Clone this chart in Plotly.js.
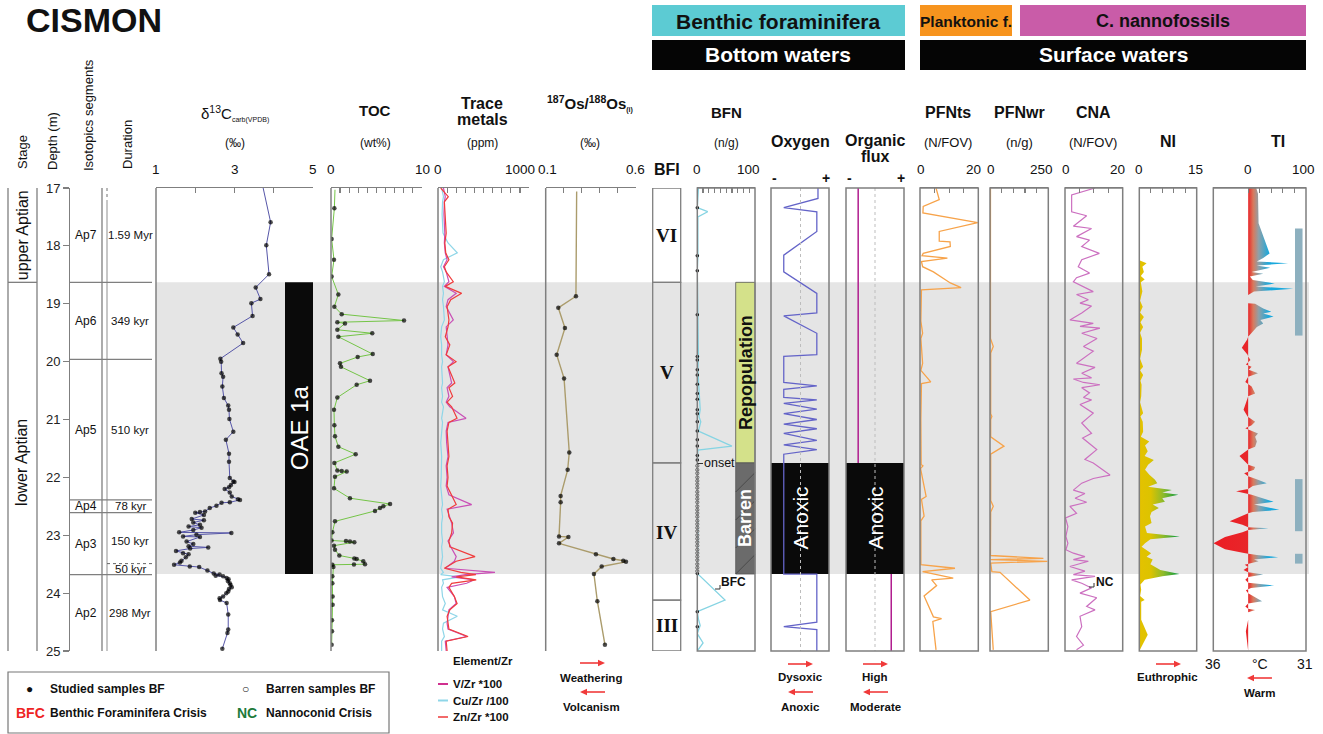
<!DOCTYPE html>
<html><head><meta charset="utf-8">
<script src="https://cdn.plot.ly/plotly-3.0.1.min.js"></script>
<style>html,body{margin:0;padding:0;background:#fff}#chart{width:1323px;height:734px}</style>
</head><body><div id="chart"></div>
<script>
// ---------------- DATA ----------------
const depthTicks = [17,18,19,20,21,22,23,24,25];
const stageNames = ['upper Aptian','lower Aptian'];
const stageBounds = [17, 18.63, 25];
const segNames = ['Ap7','Ap6','Ap5','Ap4','Ap3','Ap2'];
const segDur = ['1.59 Myr','349 kyr','510 kyr','78 kyr','150 kyr','298 Myr'];
const segBounds = [17, 18.63, 19.96, 22.39, 22.61, 23.68, 25];
const subSegTop = 23.49, subSegLabel = '50 kyr';
const oaeTop = 18.63, oaeBase = 23.67;
const bfiNames = ['VI','V','IV','III'];
const bfiBounds = [17, 18.63, 21.75, 24.12, 25];
const barrenTop = 21.75, barrenBase = 23.67;
const tiBarTop = [17.70, 22.03, 23.32];
const tiBarBase = [19.55, 22.93, 23.49];

const d13cDepth = [17.00,17.59,17.99,18.49,18.72,18.92,18.99,19.21,19.41,19.53,19.68,19.95,20.00,20.20,20.26,20.43,20.63,20.76,20.83,20.99,21.21,21.35,21.59,21.73,22.01,22.07,22.08,22.13,22.17,22.20,22.26,22.33,22.38,22.39,22.43,22.44,22.49,22.53,22.59,22.60,22.61,22.65,22.72,22.74,22.78,22.82,22.85,22.87,22.91,22.95,22.96,22.99,23.02,23.03,23.11,23.15,23.19,23.21,23.23,23.27,23.31,23.33,23.38,23.44,23.47,23.51,23.54,23.55,23.61,23.66,23.68,23.70,23.71,23.74,23.76,23.79,23.83,23.86,23.90,23.93,23.97,24.00,24.06,24.09,24.12,24.17,24.37,24.63,24.69,24.96];
const d13cVal = [3.73,3.92,3.81,3.88,3.54,3.66,3.43,3.46,2.97,3.08,3.22,2.64,2.66,2.67,2.71,2.69,2.73,2.84,2.86,2.87,2.97,2.78,2.86,2.86,2.88,2.97,3.00,2.91,2.86,2.75,2.88,2.93,3.09,3.14,2.88,2.67,2.54,2.37,2.25,2.12,2.00,2.22,1.91,2.22,1.95,2.12,1.83,2.16,1.95,1.59,2.92,2.03,1.69,2.12,1.78,1.95,1.83,2.33,1.87,1.51,1.69,1.83,1.76,1.65,1.61,1.46,1.86,2.10,2.31,2.47,2.62,2.52,2.71,2.80,2.85,2.83,2.88,2.90,2.93,2.86,2.84,2.79,2.71,2.62,2.63,2.80,2.84,2.84,2.82,2.69];

const tocDepth = [17.03,17.35,17.88,18.24,18.53,18.84,19.05,19.18,19.29,19.32,19.34,19.45,19.51,19.57,19.87,19.92,20.03,20.09,20.33,20.40,20.62,20.83,21.10,21.29,21.47,21.60,21.75,21.88,21.89,21.90,21.99,22.19,22.36,22.46,22.50,22.53,22.58,22.76,22.95,23.09,23.10,23.11,23.12,23.18,23.25,23.35,23.40,23.41,23.45,23.50,23.505,23.51,23.55,23.71,23.83,24.06,24.20,24.47,24.66,24.89];
const tocVal = [0.44,0.37,0.07,0.33,0.07,0.81,0.37,1.18,8.05,0.70,1.54,0.70,4.55,0.81,4.60,2.94,0.99,1.10,4.30,2.83,0.70,0.33,0.37,0.44,0.81,2.72,0.37,0.70,1.18,1.73,0.44,0.33,2.09,6.51,5.77,5.40,4.85,0.44,0.15,0.07,1.65,2.09,2.57,0.33,0.44,0.92,2.57,2.83,3.56,3.75,2.53,0.15,0.26,0.15,0.15,0.18,0.18,0.11,0.11,0.07];

const tmDepth = [17.00,17.15,17.24,17.45,17.78,17.95,18.12,18.24,18.36,18.45,18.62,18.70,18.82,18.93,19.05,19.28,19.40,19.57,19.71,19.88,20.00,20.09,20.37,20.45,20.60,20.70,20.78,20.98,21.05,21.20,21.40,21.64,21.80,22.00,22.15,22.30,22.47,22.55,22.68,22.79,22.96,23.10,23.20,23.37,23.45,23.57,23.64,23.68,23.72,23.77,23.83,23.90,24.06,24.18,24.29,24.40,24.52,24.62,24.75,24.83,25.00];
const tmV  = [60,80,70,65,75,70,80,100,60,90,120,70,200,110,90,168,90,100,110,90,170,110,150,100,120,90,130,308,110,90,95,110,90,100,90,120,370,100,130,150,170,110,140,200,180,80,626,300,150,400,315,100,180,200,120,110,100,110,315,80,90];
const tmCu = [40,60,50,45,55,110,212,60,30,50,70,50,60,50,60,70,40,30,40,40,50,40,50,40,50,40,60,40,50,40,30,40,40,35,30,40,50,40,50,40,40,50,40,50,40,30,60,30,240,50,60,40,50,80,50,212,60,50,70,40,40];
const tmZn = [30,113,70,80,90,75,85,120,70,90,168,80,260,140,100,120,110,80,130,90,198,110,185,120,160,100,150,209,120,100,110,120,100,110,100,150,200,110,120,160,150,120,130,407,200,70,250,416,200,420,150,120,180,210,130,100,110,120,330,90,100];

const osDepth = [17.06,18.87,19.07,19.42,19.88,20.29,21.57,21.87,22.32,22.43,23.02,23.03,23.14,23.33,23.41,23.44,23.46,23.54,23.67,24.14,24.89];
const osVal = [0.272,0.268,0.170,0.207,0.161,0.202,0.231,0.222,0.183,0.183,0.174,0.226,0.174,0.379,0.476,0.531,0.546,0.411,0.368,0.387,0.429];

const bfnDepth = [17.0,17.34,17.41,17.5,18.17,18.43,19.19,19.91,20.14,20.39,20.6,20.83,20.95,21.04,21.2,21.46,21.53,21.75,22.5,23.0,23.66,24.12,24.32,24.45,24.56,24.7,24.86,25.0];
const bfnVal = [2,0,18,1,1,0,1,2,1,2,3,5,3,6,2,60,1,0,0,1,0,48,0,2,5,0,10,0];
const studiedDepth = [17.34,18.17,18.43,19.19,19.91,19.97,20.14,20.23,20.39,20.55,20.65,20.83,20.9,21.04,21.2,21.35,21.46,21.62,21.7,23.66,24.32,24.58];
const barrenDepth = [21.8,21.87,21.93,22.0,22.06,22.12,22.18,22.25,22.31,22.37,22.43,22.5,22.56,22.62,22.68,22.75,22.81,22.87,22.93,23.0,23.06,23.12,23.18,23.25,23.31,23.37,23.43,23.5,23.56,23.62];

const oxyDepth = [17.0,17.18,17.34,17.41,17.75,18.16,18.45,18.82,19.16,19.21,19.51,19.88,19.91,20.36,20.42,20.48,20.62,20.66,20.72,20.82,20.9,21.0,21.08,21.16,21.24,21.36,21.44,21.52,21.6,21.75,23.67,23.67,24.5,24.58,24.63,25.0];
const oxyVal = [0.81,0.81,0.22,0.79,0.79,0.22,0.22,0.79,0.79,0.22,0.79,0.79,0.22,0.22,0.79,0.22,0.22,0.79,0.22,0.79,0.22,0.79,0.22,0.79,0.22,0.79,0.22,0.79,0.22,0.22,0.22,0.79,0.79,0.22,0.79,0.79];
const ofDepth = [17.0,21.75,null,23.67,25.0];
const ofVal = [0.21,0.21,null,0.78,0.78];

const pfntsDepth = [17.0,17.2,17.32,17.43,17.6,17.75,17.92,17.93,18.01,18.13,18.17,18.21,18.27,18.36,18.45,18.62,18.64,18.72,18.76,19.3,19.51,19.6,20.03,20.15,20.35,20.38,21.0,21.78,21.8,21.85,22.33,22.38,22.67,22.75,23.51,23.57,23.63,23.74,23.77,23.87,24.05,24.41,24.44,24.49,24.98];
const pfntsVal = [5.5,6.6,1.1,1.0,19.8,6.6,6.6,10.3,10.4,1.1,0.7,9.4,0.5,0.9,4.6,9.7,10.4,14.1,0.5,0.3,0.9,0.3,0.9,0.3,3.7,0.5,0.3,0.4,1.0,0.2,2.1,0.5,1.4,0.3,0.3,12.0,0.9,11.4,4.0,5.7,1.4,4.6,7.4,4.4,5.5];
const pfnwrDepth = [17.0,19.6,19.74,19.85,20.9,20.95,21.0,21.3,21.46,21.6,22.4,22.5,22.6,23.35,23.4,23.42,23.45,23.48,23.63,23.64,24.12,24.32,24.98];
const pfnwrVal = [2,2,14,3,3,8,3,3,60,3,3,14,3,2,229,3,246,3,8,43,171,3,14];

const cnaDepth = [17.0,17.12,17.41,17.48,17.66,17.7,17.84,17.9,18.01,18.13,18.24,18.36,18.41,18.47,18.55,18.62,18.79,18.84,18.93,18.99,19.04,19.16,19.28,19.34,19.39,19.42,19.51,19.6,19.74,19.82,20.03,20.1,20.2,20.28,20.3,20.36,20.4,20.45,20.54,20.62,20.66,20.74,20.89,21.06,21.24,21.32,21.52,21.69,21.75,21.96,22.02,22.1,22.22,22.28,22.36,22.43,22.5,22.62,22.7,22.85,23.02,23.14,23.25,23.31,23.37,23.42,23.45,23.54,23.62,23.68,23.71,23.77,23.83,23.91,24.0,24.08,24.23,24.29,24.4,24.58,24.75,24.9,24.98];
const cnaVal = [10.4,2.3,2.3,7.5,2.9,9.2,4.0,8.5,5.8,11.9,5.8,4.6,6.3,8.5,4.0,2.9,9.8,4.0,8.1,5.2,9.2,5.8,1.7,9.8,5.2,12.1,5.8,11.1,6.4,9.8,4.0,10.4,5.8,9.2,2.9,6.4,12.1,5.8,8.5,6.4,9.2,5.2,9.8,5.8,9.2,6.1,11.0,6.9,9.8,15.6,9.8,5.8,2.9,6.9,3.5,7.5,1.7,4.0,0.2,1.0,0.3,1.0,0.3,2.9,6.9,2.9,8.1,1.7,6.9,2.9,10.4,2.3,5.8,9.2,5.2,11.0,7.5,10.4,5.2,5.8,4.0,6.4,4.0];

const niDepth = [17.0,18.25,18.3,18.36,18.45,18.52,18.58,18.63,18.79,18.95,19.05,19.15,19.23,19.32,19.4,19.5,19.6,19.8,19.95,20.09,20.15,20.23,20.33,20.4,20.6,20.7,20.89,20.95,21.04,21.21,21.3,21.38,21.45,21.55,21.63,21.7,21.78,21.87,21.96,22.04,22.1,22.16,22.22,22.26,22.3,22.36,22.42,22.47,22.53,22.6,22.67,22.79,22.85,22.96,23.02,23.07,23.14,23.2,23.31,23.37,23.42,23.5,23.6,23.67,23.71,23.77,23.85,23.94,24.05,24.12,24.15,24.35,24.46,24.72,24.92,25.0];
const niVal = [0,0,1.9,0.8,1.2,0.4,1.4,0.4,0.8,0.2,0.9,0.2,1.2,0.3,1.0,0.2,0.7,0.7,0.2,1.0,0.2,1.0,0.3,0.6,0.5,0.2,1.0,0.3,0.9,1.0,0.4,2.6,1.5,2.2,1.4,3.8,2.3,1.5,2.7,4.1,4.7,2.3,8.5,6.0,10.2,6.0,6.7,3.5,5.1,3.2,2.8,3.2,1.5,2.0,10.6,2.9,1.5,0.6,3.1,1.9,3.5,2.9,5.5,10.5,6.0,1.4,0.3,0.5,0.2,1.4,0.5,0.4,0.5,2.2,0.5,0];

const tiDepth = [17.0,17.1,17.61,17.84,18.13,18.21,18.27,18.3,18.34,18.38,18.45,18.48,18.53,18.59,18.65,18.7,18.74,18.79,18.85,18.99,19.0,19.08,19.14,19.17,19.22,19.28,19.34,19.4,19.51,19.57,19.62,19.76,19.88,19.91,19.97,20.05,20.09,20.14,20.2,20.26,20.35,20.43,20.55,20.6,20.66,20.83,20.95,21.04,21.1,21.15,21.24,21.3,21.38,21.47,21.52,21.58,21.63,21.72,21.78,21.82,21.87,21.93,21.98,22.04,22.1,22.15,22.2,22.24,22.28,22.3,22.42,22.47,22.56,22.6,22.62,22.68,22.76,22.82,22.86,22.88,22.91,22.95,23.03,23.14,23.24,23.31,23.34,23.38,23.42,23.45,23.49,23.51,23.55,23.6,23.64,23.68,23.72,23.77,23.82,23.87,23.91,23.95,24.0,24.14,24.18,24.23,24.27,24.29,24.33,24.46,24.66,24.92,25.0];
const tiVal = [14,17,18,26,37,26,15,69,15,38,6,26,3,8,46,13,78,10,0,0,12,26,40,26,44,21,26,15,6,0,-2,-11,-1,0,4,-4,6,1,17,0,-5,6,12,0,-2,-8,-1,12,6,-5,17,12,15,12,0,-8,-15,-6,0,12,10,-7,0,17,32,8,0,-21,0,6,44,10,54,8,0,-15,-32,-10,0,35,0,-10,-40,-60,-40,-5,15,52,10,18,0,-6,0,-8,0,26,0,-5,0,45,5,-4,0,24,0,-5,0,12,0,0,-4,0,0];

// ---------------- LAYOUT HELPERS ----------------
const W = 1323, H = 734;
const X = p => p / W, Y = p => 1 - p / H;
const FONT = 'Liberation Sans, Arial, Helvetica, sans-serif';
const SERIF = 'Liberation Serif, Times New Roman, serif';
const LC = '#7f7f7f';
const RED = '#f03a3a';
const TOP = 188, BOT = 651;

const P = {
  d13c:[156,313], toc:[331,421.7], tm:[438,529], os:[545.7,635.7], bfn:[697.3,755],
  oxy:[771,829], of:[846,904], pfnts:[920,978.3], pfnwr:[990,1048.3], cna:[1065,1122.7],
  ni:[1139.3,1196.7], ti:[1213.3,1306], bfi:[652.7,680.7]
};
function steps(a, b, s){ const r=[]; for(let v=a; v<=b+1e-9; v+=s) r.push(+v.toFixed(4)); return r; }
function xa(p, range, tv, extra){
  return Object.assign({domain:[X(p[0]),X(p[1])], range:range, autorange:false, anchor:'y', side:'top',
    showgrid:false, zeroline:false, showline:true, linecolor:LC, linewidth:1.4,
    ticks:tv?'inside':'', ticklen:5, tickwidth:1.2, tickcolor:LC, tickvals:tv||[], showticklabels:false,
    fixedrange:true}, extra||{});
}
const ann = [];
function A(text, px, py, size, o){
  ann.push(Object.assign({xref:'paper', yref:'paper', x:X(px), y:Y(py), text:text, showarrow:false,
    xanchor:'center', yanchor:'middle', font:{family:FONT, size:size||12, color:'#111'}}, o||{}));
}
function AY(text, px, depth, size, o){
  ann.push(Object.assign({xref:'paper', yref:'y', x:X(px), y:depth, text:text, showarrow:false,
    xanchor:'center', yanchor:'middle', font:{family:FONT, size:size||12, color:'#111'}}, o||{}));
}
const shapes = [];
function rectPx(x0,y0,x1,y1,fill,line,lw,layer){
  shapes.push({type:'rect', xref:'paper', yref:'paper', x0:X(x0), x1:X(x1), y0:Y(y0), y1:Y(y1),
    fillcolor:fill||'rgba(0,0,0,0)', line:{color:line||'rgba(0,0,0,0)', width:lw||0}, layer:layer||'above'});
}
function rectD(x0,d0,x1,d1,fill,line,lw,layer){
  shapes.push({type:'rect', xref:'paper', yref:'y', x0:X(x0), x1:X(x1), y0:d0, y1:d1,
    fillcolor:fill||'rgba(0,0,0,0)', line:{color:line||'rgba(0,0,0,0)', width:lw||0}, layer:layer||'above'});
}
function linePx(x0,y0,x1,y1,color,w,dash){
  shapes.push({type:'line', xref:'paper', yref:'paper', x0:X(x0), x1:X(x1), y0:Y(y0), y1:Y(y1),
    line:{color:color||LC, width:w||1.3, dash:dash||'solid'}, layer:'above'});
}
function lineD(x0,d0,x1,d1,color,w,dash){
  shapes.push({type:'line', xref:'paper', yref:'y', x0:X(x0), x1:X(x1), y0:d0, y1:d1,
    line:{color:color||LC, width:w||1.3, dash:dash||'solid'}, layer:'above'});
}
function arrow(x0, x1, py){
  const d = x1 > x0 ? 1 : -1;
  linePx(x0, py, x1 - d*5, py, RED, 1.6);
  shapes.push({type:'path', xref:'paper', yref:'paper',
    path:'M ' + X(x1) + ',' + Y(py) + ' L ' + X(x1 - d*7) + ',' + Y(py - 3.3) + ' L ' + X(x1 - d*7) + ',' + Y(py + 3.3) + ' Z',
    fillcolor:RED, line:{width:0}, layer:'above'});
}

// ---------------- SHAPES ----------------
rectD(156, oaeTop, 1309, oaeBase, '#e5e5e5', null, 0, 'below');
rectD(285, oaeTop, 313, oaeBase, '#0a0a0a', null, 0, 'below');
rectD(P.oxy[0], barrenTop, P.oxy[1], barrenBase, '#0a0a0a', null, 0, 'below');
rectD(P.of[0], barrenTop, P.of[1], barrenBase, '#0a0a0a', null, 0, 'below');
rectD(735.7, oaeTop, P.bfn[1], barrenTop, '#d4e18a', '#555', 0.8, 'below');
rectD(735.7, barrenTop, P.bfn[1], barrenBase, '#6b6b6b', '#555', 0.8, 'below');
[492, 520, 548, 574].forEach(yb => {
  const y0 = yb, y1 = Math.max(yb - 19.3, 463.3);
  const x1 = 735.7 + (y0 - y1);
  shapes.push({type:'line', xref:'paper', yref:'paper', x0:X(735.7), y0:Y(y0), x1:X(x1), y1:Y(y1),
    line:{color:'#4a4a4a', width:1}, layer:'below'});
});
tiBarTop.forEach((t,i) => shapes.push({type:'rect', xref:'x12', yref:'y', x0:81, x1:94, y0:t, y1:tiBarBase[i],
  fillcolor:'#8db0bf', line:{width:0}, layer:'below'}));
linePx(800.5, TOP, 800.5, BOT, '#bdbdbd', 1, 'dot');
linePx(875, TOP, 875, BOT, '#bdbdbd', 1, 'dot');
[P.d13c[0], P.toc[0], P.tm[0], P.os[0]].forEach(x => linePx(x, TOP, x, BOT, LC, 1.5));
['bfn','oxy','of','pfnts','pfnwr','cna','ni','ti'].forEach(k => rectPx(P[k][0], TOP, P[k][1], BOT, null, LC, 1.5));
for (let i = 0; i < bfiNames.length; i++) rectD(P.bfi[0], bfiBounds[i], P.bfi[1], bfiBounds[i+1], null, LC, 1.3);
linePx(8, TOP, 8, BOT, LC, 1.3); linePx(37, TOP, 37, BOT, LC, 1.3);
lineD(8, stageBounds[1], 37, stageBounds[1], LC, 1.3);
linePx(102, TOP, 102, BOT, LC, 1.3);
linePx(107, TOP, 107, 200, LC, 1.1, 'dot');
linePx(107, 200, 107, BOT, '#999', 1.1);
for (let i = 1; i < segBounds.length - 1; i++) lineD(69, segBounds[i], 152, segBounds[i], LC, 1.3);
lineD(107, subSegTop, 152, subSegTop, '#666', 1, 'dot');
rectPx(652, 5, 905, 36, '#5ccbd3');
rectPx(652, 40, 905, 70, '#050505');
rectPx(920, 5, 1012, 36, '#f7941e');
rectPx(1020, 5, 1306, 36, '#c95ca8');
rectPx(920, 40, 1306, 70, '#050505');
rectPx(8, 672, 389, 733, null, '#777', 1.2);
linePx(438, 684, 448, 684, '#d0308f', 2);
linePx(438, 700.5, 448, 700.5, '#8fd6e8', 2);
linePx(438, 717, 448, 717, '#f26a6a', 2);
linePx(697.5, 463.5, 703, 463.5, '#333', 1);
linePx(715, 589, 720, 589, '#333', 1); linePx(720, 589, 720, 585, '#333', 1);
linePx(1089, 587, 1094, 587, '#333', 1); linePx(1094, 587, 1094, 583, '#333', 1);
arrow(580, 605, 663); arrow(605, 580, 692);
arrow(788, 813, 664); arrow(813, 788, 692);
arrow(863, 888, 664); arrow(888, 863, 692);
arrow(1156, 1181, 664);
arrow(1272, 1247, 678);

// ---------------- ANNOTATIONS ----------------
A('<b>CISMON</b>', 94, 20, 34);
A('<b>Benthic foraminifera</b>', 778, 21, 21);
A('<b>Bottom waters</b>', 778, 55, 21, {font:{family:FONT, size:21, color:'#fff'}});
A('<b>Planktonic f.</b>', 966, 21, 15.5);
A('<b>C. nannofossils</b>', 1163, 21, 18);
A('<b>Surface waters</b>', 1113, 55, 21, {font:{family:FONT, size:21, color:'#fff'}});
A('Stage', 23, 152, 13, {textangle:-90});
A('Depth (m)', 52, 141, 13, {textangle:-90});
A('Isotopics segments', 88, 115, 13, {textangle:-90});
A('Duration', 128, 145, 13, {textangle:-90});
AY(stageNames[0], 22, (stageBounds[0]+stageBounds[1])/2, 16, {textangle:-90});
AY(stageNames[1], 22, 21.75, 16, {textangle:-90});
for (let i = 0; i < segNames.length; i++) {
  const mid = (segBounds[i] + segBounds[i+1]) / 2;
  AY(segNames[i], 86, mid, 12);
  const dmid = i === 4 ? (segBounds[i] + subSegTop) / 2 + 0.05 : mid;
  AY(segDur[i], 130, dmid, 11.5);
}
AY(subSegLabel, 130, (subSegTop + segBounds[5]) / 2, 11.5);
A('δ<sup>13</sup>C<sub><span style="font-size:7px">carb(VPDB)</span></sub>', 235, 113, 15);
A('(‰)', 235, 143, 12);
A('<b>TOC</b>', 375, 110, 15);
A('(wt%)', 375, 143, 12);
A('<b>Trace</b>', 482, 103, 16);
A('<b>metals</b>', 482, 120, 16);
A('(ppm)', 482, 143, 12);
A('<b><sup>187</sup>Os/<sup>188</sup>Os<sub><span style="font-size:7px">(i)</span></sub></b>', 590, 104, 15);
A('(‰)', 590, 143, 12);
A('<b>BFN</b>', 726, 112, 15);
A('(n/g)', 726, 143, 12);
A('<b>Oxygen</b>', 800, 141, 16);
A('<b>Organic</b>', 875, 140, 16);
A('<b>flux</b>', 875, 156, 16);
A('<b>PFNts</b>', 948, 112, 16);
A('(N/FOV)', 948, 143, 13);
A('<b>PFNwr</b>', 1019, 112, 16);
A('(n/g)', 1019, 143, 13);
A('<b>CNA</b>', 1093, 112, 16);
A('(N/FOV)', 1093, 143, 13);
A('<b>NI</b>', 1168, 142, 16);
A('<b>TI</b>', 1278, 142, 16);
A('<b>BFI</b>', 667, 170, 16);
[['1',156],['3',234.7],['5',313],['0',331],['10',422],['0',438],['1000',520],['0.1',547.5],['0.6',635],
 ['0',697],['100',748],['0',920.7],['20',973],['0',990.7],['250',1041],['0',1065.7],['20',1117],
 ['0',1139],['15',1195],['0',1248],['100',1303]].forEach(t => A(t[0], t[1], 170, 13.5));
A('<b>-</b>', 774, 178, 14); A('<b>+</b>', 826, 178, 14);
A('<b>-</b>', 849, 178, 14); A('<b>+</b>', 901, 178, 14);
AY('OAE 1a', 299, (oaeTop + oaeBase) / 2, 24, {textangle:-90, font:{family:FONT, size:24, color:'#fff'}});
AY('Anoxic', 800, (barrenTop + barrenBase) / 2, 21, {textangle:-90, font:{family:FONT, size:21, color:'#fff'}});
AY('Anoxic', 875, (barrenTop + barrenBase) / 2, 21, {textangle:-90, font:{family:FONT, size:21, color:'#fff'}});
AY('<b>Repopulation</b>', 745.5, (oaeTop + barrenTop) / 2, 18, {textangle:-90});
AY('<b>Barren</b>', 745.5, (barrenTop + barrenBase) / 2, 18, {textangle:-90, font:{family:FONT, size:18, color:'#fff'}});
for (let i = 0; i < bfiNames.length; i++)
  AY('<b>' + bfiNames[i] + '</b>', 666.7, i === 2 ? 22.95 : (bfiBounds[i] + bfiBounds[i+1]) / 2, 19,
     {font:{family:SERIF, size:19, color:'#111'}});
A('onset', 719, 463, 12.5);
A('<b>BFC</b>', 733, 582, 12);
A('<b>NC</b>', 1105, 582, 12);
A('<b>Element/Zr</b>', 483, 661, 11.5);
A('<b>V/Zr *100</b>', 451, 684, 11.5, {xanchor:'left'});
A('<b>Cu/Zr /100</b>', 451, 700.5, 11.5, {xanchor:'left'});
A('<b>Zn/Zr *100</b>', 451, 717, 11.5, {xanchor:'left'});
A('<b>Weathering</b>', 591, 678, 11.5);
A('<b>Volcanism</b>', 591, 707, 11.5);
A('<b>Dysoxic</b>', 800, 677, 11.5);
A('<b>Anoxic</b>', 800, 707, 11.5);
A('<b>High</b>', 875, 677, 11.5);
A('<b>Moderate</b>', 875, 707, 11.5);
A('<b>Euthrophic</b>', 1167, 677, 11.5);
A('36', 1213, 664, 14); A('°C', 1260, 664, 14); A('31', 1305, 664, 14);
A('<b>Warm</b>', 1260, 693, 11.5);
A('●', 29, 689, 12);
A('<b>Studied samples BF</b>', 48, 689, 12, {xanchor:'left'});
A('○', 245, 689, 12);
A('<b>Barren samples BF</b>', 264, 689, 12, {xanchor:'left'});
A('<b>BFC</b>', 14, 713, 14, {xanchor:'left', font:{family:FONT, size:14, color:'#ee2424'}});
A('<b>Benthic Foraminifera Crisis</b>', 48, 713, 12, {xanchor:'left'});
A('<b>NC</b>', 235, 713, 14, {xanchor:'left', font:{family:FONT, size:14, color:'#1e7a3a'}});
A('<b>Nannoconid Crisis</b>', 264, 713, 12, {xanchor:'left'});

// ---------------- TRACES ----------------
const sz = (arr, skipFirst) => arr.map((_, i) => (skipFirst && i === 0) ? 0 : 4.5);
const dot = arr => ({color:'#000', size:sz(arr, true), line:{width:0}});
const traces = [
  {x:d13cVal, y:d13cDepth, xaxis:'x', yaxis:'y', mode:'lines+markers', line:{color:'#5656a8', width:1}, marker:dot(d13cVal)},
  {x:tocVal, y:tocDepth, xaxis:'x2', yaxis:'y', mode:'lines+markers', line:{color:'#74c447', width:1}, marker:dot(tocVal)},
  {x:tmCu, y:tmDepth, xaxis:'x3', yaxis:'y', mode:'lines', line:{color:'#8fd6e8', width:1.2}},
  {x:tmV, y:tmDepth, xaxis:'x3', yaxis:'y', mode:'lines', line:{color:'#c94fb6', width:1.2}},
  {x:tmZn, y:tmDepth, xaxis:'x3', yaxis:'y', mode:'lines', line:{color:'#f03c3c', width:1.2}},
  {x:osVal, y:osDepth, xaxis:'x4', yaxis:'y', mode:'lines+markers', line:{color:'#ab9c6c', width:1.4}, marker:dot(osVal)},
  {x:bfnVal, y:bfnDepth, xaxis:'x5', yaxis:'y', mode:'lines', line:{color:'#86d4e3', width:1.3}},
  {x:studiedDepth.map(() => 0), y:studiedDepth, xaxis:'x5', yaxis:'y', mode:'markers', cliponaxis:false,
   marker:{color:'#111', size:3.5, line:{width:0}}},
  {x:barrenDepth.map(() => 0), y:barrenDepth, xaxis:'x5', yaxis:'y', mode:'markers', cliponaxis:false,
   marker:{color:'#fff', size:3.2, symbol:'circle', line:{color:'#444', width:0.8}}},
  {x:oxyVal, y:oxyDepth, xaxis:'x6', yaxis:'y', mode:'lines', line:{color:'#6464c8', width:1.3}},
  {x:ofVal, y:ofDepth, xaxis:'x7', yaxis:'y', mode:'lines', line:{color:'#b01c8e', width:1.5}, connectgaps:false},
  {x:pfntsVal, y:pfntsDepth, xaxis:'x8', yaxis:'y', mode:'lines', line:{color:'#f7a34a', width:1.3}},
  {x:pfnwrVal, y:pfnwrDepth, xaxis:'x9', yaxis:'y', mode:'lines', line:{color:'#f7a34a', width:1.3}},
  {x:cnaVal, y:cnaDepth, xaxis:'x10', yaxis:'y', mode:'lines', line:{color:'#cc70c0', width:1.2}},
  {x:niVal, y:niDepth, xaxis:'x11', yaxis:'y', mode:'lines', line:{width:0, color:'rgba(0,0,0,0)'}, fill:'tozerox',
   fillcolor:'#e2c100',
   fillgradient:{type:'horizontal', start:0, stop:15,
     colorscale:[[0,'#e4c200'],[0.2,'#dcc300'],[0.42,'#8cba2c'],[0.68,'#0c9a3e'],[1,'#0c9a3e']]}},
  {x:tiVal, y:tiDepth, xaxis:'x12', yaxis:'y', mode:'lines', line:{width:0, color:'rgba(0,0,0,0)'}, fill:'tozerox',
   fillcolor:'#e8262a',
   fillgradient:{type:'horizontal', start:-60.3, stop:100,
     colorscale:[[0,'#ec1c24'],[0.376,'#e8262a'],[0.43,'#d9795c'],[0.49,'#8ea0a8'],[0.6,'#19a8dc'],[1,'#19a8dc']]}}
];

const layout = {
  width:W, height:H, margin:{l:0, r:0, t:0, b:0}, paper_bgcolor:'#fff', plot_bgcolor:'rgba(0,0,0,0)',
  showlegend:false, font:{family:FONT, color:'#111'},
  yaxis:{domain:[Y(BOT), Y(TOP)], range:[25,17], autorange:false, anchor:'free', position:X(69),
    tickvals:depthTicks, ticks:'outside', ticklen:6, tickwidth:1.2, tickcolor:LC, showline:true,
    linecolor:LC, linewidth:1.3, showgrid:false, zeroline:false, tickfont:{family:FONT, size:13, color:'#222'},
    fixedrange:true},
  xaxis:xa(P.d13c, [1,5], steps(1,5,1)),
  xaxis2:xa(P.toc, [0,10], steps(0,10,1)),
  xaxis3:xa(P.tm, [0,1000], steps(0,1000,100)),
  xaxis4:xa(P.os, [0.1,0.6], steps(0.1,0.6,0.1)),
  xaxis5:xa(P.bfn, [0,100], steps(0,100,10)),
  xaxis6:xa(P.oxy, [0,1], null, {showline:false}),
  xaxis7:xa(P.of, [0,1], null, {showline:false}),
  xaxis8:xa(P.pfnts, [0,20], steps(0,20,5)),
  xaxis9:xa(P.pfnwr, [0,250], steps(0,250,50)),
  xaxis10:xa(P.cna, [0,20], steps(0,20,5)),
  xaxis11:xa(P.ni, [0,15], steps(0,15,3)),
  xaxis12:xa(P.ti, [-60.3,100], steps(0,100,20)),
  xaxis13:xa(P.ti, [36,31], steps(31,36,1), {side:'bottom', overlaying:'x12', showline:false}),
  shapes:shapes, annotations:ann
};
Plotly.newPlot('chart', traces, layout, {displayModeBar:false, staticPlot:true});
</script></body></html>
